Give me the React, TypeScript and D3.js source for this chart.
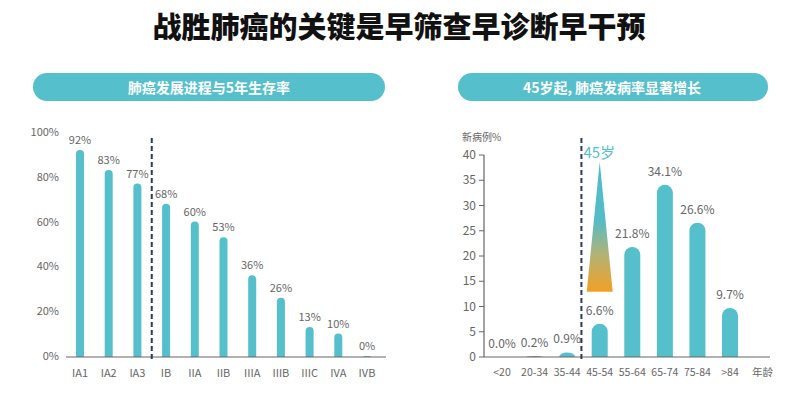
import React from 'react';
import * as d3 from 'd3';

// left chart: 5-year survival by stage
const stages = ['IA1', 'IA2', 'IA3', 'IB', 'IIA', 'IIB', 'IIIA', 'IIIB', 'IIIC', 'IVA', 'IVB'];
const survival = [92, 83, 77, 68, 60, 53, 36, 26, 13, 10, 0];
const survivalTicks = [0, 20, 40, 60, 80, 100];

// right chart: new cases by age group
const ageGroups = ['<20', '20-34', '35-44', '45-54', '55-64', '65-74', '75-84', '>84'];
const newCases = [0.0, 0.2, 0.9, 6.6, 21.8, 34.1, 26.6, 9.7];
const caseTicks = [0, 5, 10, 15, 20, 25, 30, 35, 40];

const TEAL = '#55bfcc';
const GREY = '#666';
const NAVY = '#2c3b57';
const FONT = '"Noto Sans CJK SC", "Noto Sans", sans-serif';

// bar with rounded top; for very short bars just a dome
const barPath = (cx: number, w: number, top: number, base: number) => {
  const r = w / 2;
  const h = base - top;
  if (h <= 0) return '';
  if (h < r) return `M${cx - r},${base} A${r},${h} 0 0 1 ${cx + r},${base} Z`;
  return `M${cx - r},${base} V${top + r} A${r},${r} 0 0 1 ${cx + r},${top + r} V${base} Z`;
};

export default function App() {
  // left scales
  const xL = d3.scalePoint<string>().domain(stages).range([80, 367]);
  const yL = d3.scaleLinear().domain([0, 100]).range([356, 132]);
  // right scales
  const xR = d3.scalePoint<string>().domain(ageGroups).range([502, 730]);
  const yR = d3.scaleLinear().domain([0, 40]).range([357, 155]);

  const dividerL = (xL('IA3')! + xL('IB')!) / 2;
  const dividerR = (xR('35-44')! + xR('45-54')!) / 2 - 2;
  const arrowX = xR('45-54')!;

  return (
    <div style={{ position: 'absolute', left: 0, top: 0 }}>
      <svg width={800} height={395} style={{ display: 'block', background: '#fff' }} fontFamily={FONT}>
        <defs>
          <linearGradient id="arrowGrad" x1="0" y1="0" x2="0" y2="1">
            <stop offset="0" stopColor="#4cbccf" />
            <stop offset="0.45" stopColor="#55bcc8" />
            <stop offset="0.72" stopColor="#b4b273" />
            <stop offset="1" stopColor="#f2a024" />
          </linearGradient>
        </defs>

        <text x={399} y={38} textAnchor="middle" fontSize={29} fontWeight={900} fill="#111">
          战胜肺癌的关键是早筛查早诊断早干预
        </text>

        {/* header pills */}
        <rect x={33} y={73} width={352} height={28} rx={14} fill={TEAL} />
        <text x={209} y={92.5} textAnchor="middle" fontSize={14} fontWeight={700} fill="#fff">
          肺癌发展进程与5年生存率
        </text>
        <rect x={458} y={73} width={310} height={28} rx={14} fill={TEAL} />
        <text x={612} y={92.5} textAnchor="middle" fontSize={14} fontWeight={700} fill="#fff">
          45岁起, 肺癌发病率显著增长
        </text>

        {/* left chart */}
        <g>
          {survivalTicks.map(t => (
            <text key={t} x={59} y={yL(t) + 4} textAnchor="end" fontSize={11} fill={GREY}>
              {t}%
            </text>
          ))}
          {stages.map((s, i) => (
            <g key={s}>
              <path d={barPath(xL(s)!, 8, yL(survival[i]), yL(0) + 1)} fill={TEAL} />
              <text x={xL(s)!} y={yL(survival[i]) - 6} textAnchor="middle" fontSize={11} fill={GREY}>
                {survival[i]}%
              </text>
              <text x={xL(s)!} y={377} textAnchor="middle" fontSize={11} fill={GREY}>
                {s}
              </text>
            </g>
          ))}
          <line x1={66} x2={386} y1={357} y2={357} stroke={GREY} strokeWidth={1.2} />
          <line x1={dividerL} x2={dividerL} y1={138} y2={362} stroke={NAVY} strokeWidth={2} strokeDasharray="5,3" />
        </g>

        {/* right chart */}
        <g>
          <text x={462} y={141} fontSize={10} fill={GREY}>新病例%</text>
          {caseTicks.map(t => (
            <g key={t}>
              <line x1={479} x2={484} y1={yR(t)} y2={yR(t)} stroke={GREY} strokeWidth={1} />
              <text x={476} y={yR(t) + 4} textAnchor="end" fontSize={12} fill={GREY}>
                {t}
              </text>
            </g>
          ))}
          <line x1={484} x2={484} y1={yR(40)} y2={yR(0)} stroke={GREY} strokeWidth={1.2} />
          {ageGroups.map((g, i) => (
            <g key={g}>
              <path
                d={barPath(xR(g)!, 16, yR(newCases[i]), yR(0))}
                fill={newCases[i] < 0.5 ? '#8a9aa0' : TEAL}
              />
              <text x={xR(g)!} y={yR(newCases[i]) - 9} textAnchor="middle" fontSize={12} fill={GREY}>
                {newCases[i].toFixed(1)}%
              </text>
              <text x={xR(g)!} y={376} textAnchor="middle" fontSize={10.5} fill={GREY}>
                {g}
              </text>
            </g>
          ))}
          <text x={xR('>84')! + xR.step()} y={376} textAnchor="middle" fontSize={10.5} fill={GREY}>
            年龄
          </text>
          <line x1={484} x2={770} y1={357} y2={357} stroke={GREY} strokeWidth={1.2} />
          <line x1={dividerR} x2={dividerR} y1={138} y2={362} stroke={NAVY} strokeWidth={2} strokeDasharray="5,3" />
          <text x={dividerR + 2} y={158} fontSize={15} fill={TEAL}>45岁</text>
          <path
            d={`M${arrowX},${yR(38.6)} L${arrowX + 13},${yR(12.9)} L${arrowX - 13},${yR(12.9)} Z`}
            fill="url(#arrowGrad)"
          />
        </g>
      </svg>
    </div>
  );
}
